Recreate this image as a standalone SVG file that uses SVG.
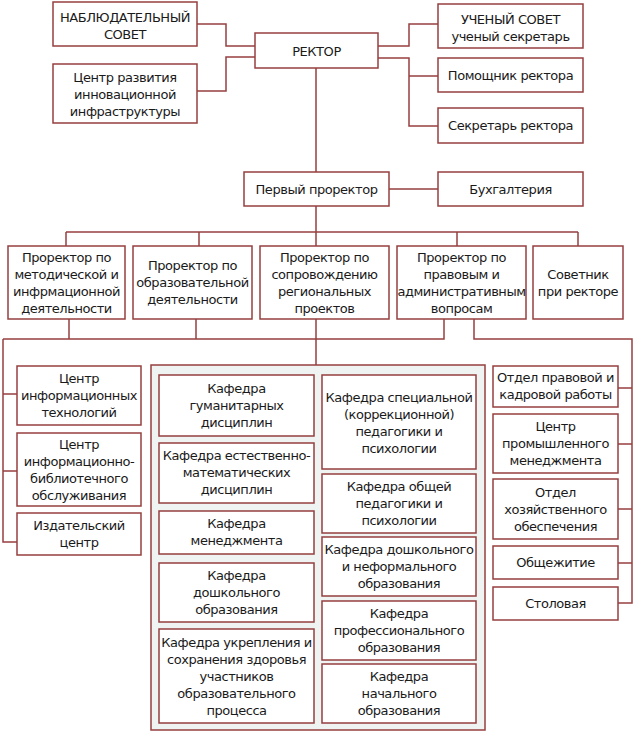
<svg xmlns="http://www.w3.org/2000/svg" width="634" height="737" viewBox="0 0 634 737">
<style>
.b{fill:#fff;stroke:#963f3f;stroke-width:1.5}
.c{fill:#eff3f2;stroke:#963f3f;stroke-width:1.5}
.l{fill:none;stroke:#963f3f;stroke-width:1.5}
text{font-family:"DejaVu Sans",Verdana,sans-serif;font-size:13px;letter-spacing:-0.45px;fill:#1a1a1a;text-anchor:middle}
</style>
<rect width="634" height="737" fill="#fff"/>
<g id="connectors" class="l">
<path d="M197,24 H226 V46 H255"/>
<path d="M197,91 H226 V57 H255"/>
<path d="M378,46 H409 V24 H438"/>
<path d="M378,58 H409 V126 H438 M409,76 H438"/>
<path d="M316,68 V172"/>
<path d="M389,189 H438"/>
<path d="M316,206 V246 M66,232 H578 M66,232 V246 M199,232 V246 M457,232 V246 M578,232 V246"/>
<path d="M69,319 V339 M196,319 V339 M316,319 V365 M3,339 H444 V319"/>
<path d="M3,339 V542 H17 M3,394 H17 M3,471 H17"/>
<path d="M474,319 V339 H632 V603 H618 M618,388 H632 M618,444 H632 M618,509 H632 M618,563 H632"/>
</g>
<g id="nab"><rect class="b" x="53" y="2" width="144" height="44"/><text x="125" y="22">НАБЛЮДАТЕЛЬНЫЙ<tspan x="125" dy="17">СОВЕТ</tspan></text></g>
<g id="cri"><rect class="b" x="53" y="64" width="144" height="59"/><text x="125" y="82">Центр развития<tspan x="125" dy="17">инновационной</tspan><tspan x="125" dy="17">инфраструктуры</tspan></text></g>
<g id="rector"><rect class="b" x="255" y="33" width="123" height="35"/><text x="316.5" y="56">РЕКТОР</text></g>
<g id="us"><rect class="b" x="438" y="4" width="145" height="44"/><text x="510.5" y="24">УЧЕНЫЙ СОВЕТ<tspan x="510.5" dy="17">ученый секретарь</tspan></text></g>
<g id="pom"><rect class="b" x="438" y="58" width="145" height="34"/><text x="510.5" y="80">Помощник ректора</text></g>
<g id="sek"><rect class="b" x="438" y="108" width="145" height="35"/><text x="510.5" y="130">Секретарь ректора</text></g>
<g id="first"><rect class="b" x="244" y="172" width="145" height="34"/><text x="316.5" y="194">Первый проректор</text></g>
<g id="buh"><rect class="b" x="438" y="172" width="145" height="34"/><text x="510.5" y="194">Бухгалтерия</text></g>
<g id="pr1"><rect class="b" x="8" y="246" width="117" height="73"/><text x="66.5" y="262">Проректор по<tspan x="66.5" dy="17">методической и</tspan><tspan x="66.5" dy="17">инфрмационной</tspan><tspan x="66.5" dy="17">деятельности</tspan></text></g>
<g id="pr2"><rect class="b" x="133" y="246" width="119" height="73"/><text x="192.5" y="270">Проректор по<tspan x="192.5" dy="17">образовательной</tspan><tspan x="192.5" dy="17">деятельности</tspan></text></g>
<g id="pr3"><rect class="b" x="260" y="246" width="129" height="73"/><text x="324.5" y="262">Проректор по<tspan x="324.5" dy="17">сопровождению</tspan><tspan x="324.5" dy="17">региональных</tspan><tspan x="324.5" dy="17">проектов</tspan></text></g>
<g id="pr4"><rect class="b" x="397" y="246" width="129" height="73"/><text x="461.5" y="262">Проректор по<tspan x="461.5" dy="17">правовым и</tspan><tspan x="461.5" dy="17">административным</tspan><tspan x="461.5" dy="17">вопросам</tspan></text></g>
<g id="sov"><rect class="b" x="533" y="246" width="90" height="73"/><text x="578" y="279">Советник<tspan x="578" dy="17">при ректоре</tspan></text></g>
<g id="cit"><rect class="b" x="17" y="366" width="124" height="59"/><text x="79" y="383">Центр<tspan x="79" dy="17">информационных</tspan><tspan x="79" dy="17">технологий</tspan></text></g>
<g id="cib"><rect class="b" x="17" y="433" width="124" height="73"/><text x="79" y="449">Центр<tspan x="79" dy="17">информационно-</tspan><tspan x="79" dy="17">библиотечного</tspan><tspan x="79" dy="17">обслуживания</tspan></text></g>
<g id="izd"><rect class="b" x="17" y="513" width="124" height="42"/><text x="79" y="530">Издательский<tspan x="79" dy="17">центр</tspan></text></g>
<g id="kafedry"><rect class="c" x="151" y="365" width="334" height="365"/></g>
<g id="k1"><rect class="b" x="159" y="375" width="155" height="61"/><text x="236.5" y="393">Кафедра<tspan x="236.5" dy="17">гуманитарных</tspan><tspan x="236.5" dy="17">дисциплин</tspan></text></g>
<g id="k2"><rect class="b" x="159" y="443" width="155" height="60"/><text x="236.5" y="460">Кафедра естественно-<tspan x="236.5" dy="17">математических</tspan><tspan x="236.5" dy="17">дисциплин</tspan></text></g>
<g id="k3"><rect class="b" x="159" y="511" width="155" height="43"/><text x="236.5" y="528">Кафедра<tspan x="236.5" dy="17">менеджмента</tspan></text></g>
<g id="k4"><rect class="b" x="159" y="563" width="155" height="59"/><text x="236.5" y="580">Кафедра<tspan x="236.5" dy="17">дошкольного</tspan><tspan x="236.5" dy="17">образования</tspan></text></g>
<g id="k5"><rect class="b" x="159" y="629" width="155" height="94"/><text x="236.5" y="647">Кафедра укрепления и<tspan x="236.5" dy="17">сохранения здоровья</tspan><tspan x="236.5" dy="17">участников</tspan><tspan x="236.5" dy="17">образовательного</tspan><tspan x="236.5" dy="17">процесса</tspan></text></g>
<g id="k6"><rect class="b" x="322" y="375" width="154" height="94"/><text x="399" y="402">Кафедра специальной<tspan x="399" dy="17">(коррекционной)</tspan><tspan x="399" dy="17">педагогики и</tspan><tspan x="399" dy="17">психологии</tspan></text></g>
<g id="k7"><rect class="b" x="322" y="474" width="154" height="59"/><text x="399" y="491">Кафедра общей<tspan x="399" dy="17">педагогики и</tspan><tspan x="399" dy="17">психологии</tspan></text></g>
<g id="k8"><rect class="b" x="322" y="537" width="154" height="59"/><text x="399" y="554">Кафедра дошкольного<tspan x="399" dy="17">и неформального</tspan><tspan x="399" dy="17">образования</tspan></text></g>
<g id="k9"><rect class="b" x="322" y="601" width="154" height="59"/><text x="399" y="618">Кафедра<tspan x="399" dy="17">профессионального</tspan><tspan x="399" dy="17">образования</tspan></text></g>
<g id="k10"><rect class="b" x="322" y="664" width="154" height="59"/><text x="399" y="681">Кафедра<tspan x="399" dy="17">начального</tspan><tspan x="399" dy="17">образования</tspan></text></g>
<g id="o1"><rect class="b" x="493" y="366" width="125" height="41"/><text x="555.5" y="382">Отдел правовой и<tspan x="555.5" dy="17">кадровой работы</tspan></text></g>
<g id="o2"><rect class="b" x="493" y="414" width="125" height="59"/><text x="555.5" y="431">Центр<tspan x="555.5" dy="17">промышленного</tspan><tspan x="555.5" dy="17">менеджмента</tspan></text></g>
<g id="o3"><rect class="b" x="493" y="479" width="125" height="60"/><text x="555.5" y="497">Отдел<tspan x="555.5" dy="17">хозяйственного</tspan><tspan x="555.5" dy="17">обеспечения</tspan></text></g>
<g id="o4"><rect class="b" x="493" y="546" width="125" height="33"/><text x="555.5" y="567">Общежитие</text></g>
<g id="o5"><rect class="b" x="493" y="587" width="125" height="33"/><text x="555.5" y="608">Столовая</text></g>
</svg>
